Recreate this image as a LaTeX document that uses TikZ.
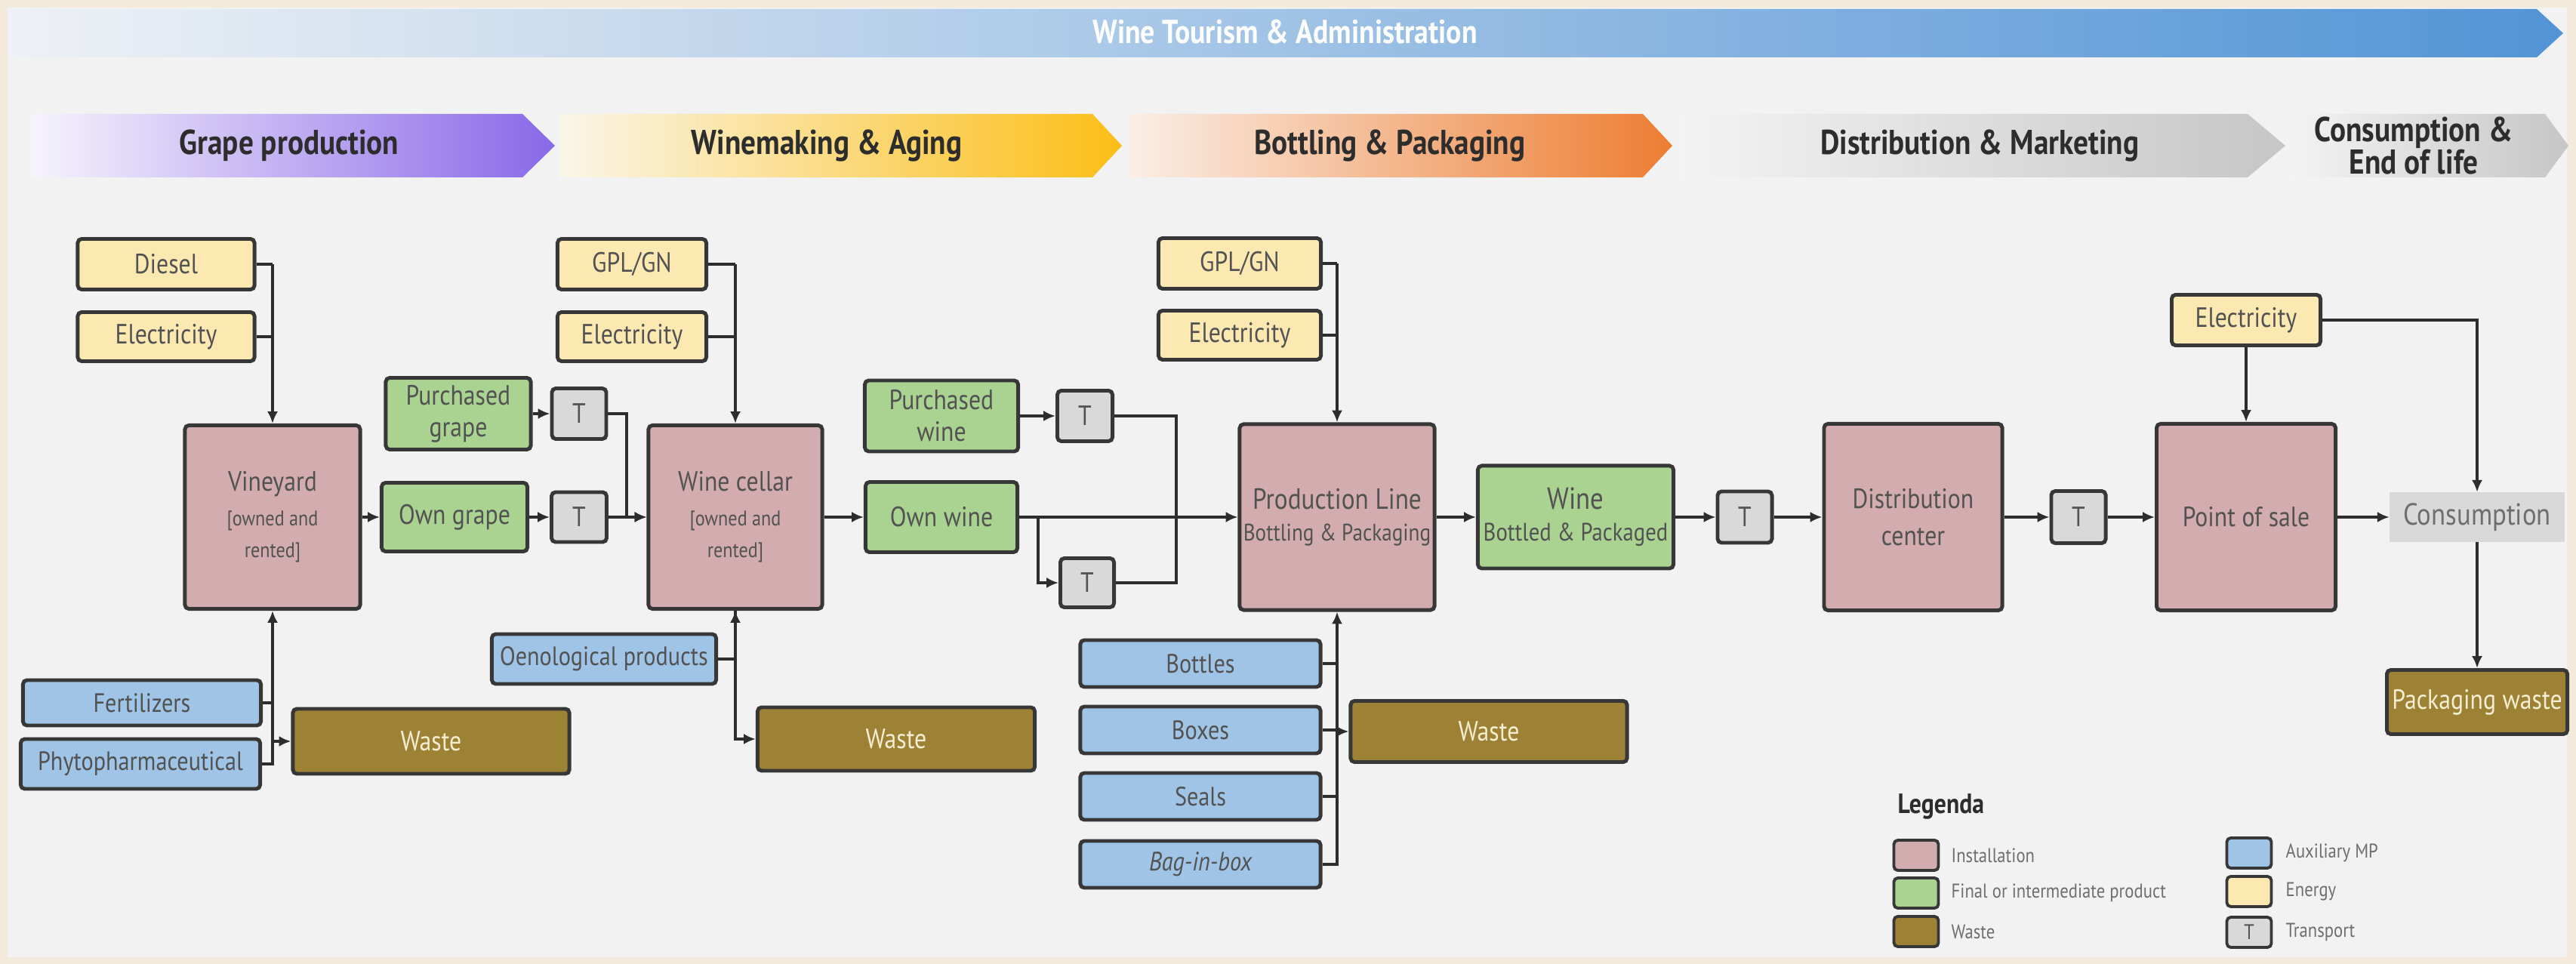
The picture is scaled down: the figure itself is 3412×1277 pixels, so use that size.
\documentclass[tikz,border=0pt]{standalone}
\usepackage{fontspec}
\setmainfont{PT Sans}[FakeStretch=0.86]
\usetikzlibrary{arrows.meta}
\newcommand\fsz[2]{\fontsize{#1}{#2}\selectfont}
\definecolor{cream}{RGB}{243,234,219}
\definecolor{panel}{RGB}{242,242,242}
\definecolor{instc}{RGB}{210,172,175}
\definecolor{prodc}{RGB}{170,210,145}
\definecolor{enerc}{RGB}{252,233,178}
\definecolor{auxc}{RGB}{160,196,230}
\definecolor{wastec}{RGB}{157,129,52}
\definecolor{trnc}{RGB}{217,217,217}
\definecolor{bordc}{RGB}{55,55,55}
\definecolor{linec}{RGB}{45,45,45}
\definecolor{txtc}{RGB}{82,82,82}
\definecolor{wtxt}{RGB}{245,238,210}
\definecolor{hdrc}{RGB}{45,45,45}
\definecolor{legc}{RGB}{110,110,110}
\definecolor{purl}{RGB}{246,244,252}
\definecolor{pur}{RGB}{138,104,232}
\definecolor{goll}{RGB}{250,246,232}
\definecolor{gol}{RGB}{252,190,22}
\definecolor{orl}{RGB}{250,238,230}
\definecolor{ora}{RGB}{237,125,49}
\definecolor{gryl}{RGB}{243,243,243}
\definecolor{gry}{RGB}{198,198,198}
\definecolor{blul}{RGB}{238,241,245}
\definecolor{blu}{RGB}{82,148,214}
\tikzset{
  box/.style={draw=bordc, line width=1.4pt, rounded corners=1.5pt, inner sep=0pt,
    align=center, font=\fsz{10.5}{12}, text=txtc},
  sz/.style n args={2}{minimum width=#1cm, minimum height=#2cm},
  inst/.style={box, fill=instc},
  prod/.style={box, fill=prodc},
  ener/.style={box, fill=enerc},
  aux/.style={box, fill=auxc, font=\fsz{10}{12}},
  wst/.style={box, fill=wastec, text=wtxt},
  trn/.style={box, fill=trnc, text=txtc},
  conn/.style={draw=linec, line width=1.1pt, -{Latex[length=4.5pt,width=4pt]}},
  ln/.style={draw=linec, line width=1.1pt},
  hdr/.style={font=\bfseries\fsz{13}{12}, text=hdrc, align=center},
  legsw/.style={draw=bordc, line width=1.1pt, rounded corners=1.5pt, inner sep=0pt,
    minimum width=0.59cm, minimum height=0.40cm, font=\fsz{8}{9}, text=txtc},
  legtx/.style={anchor=west, font=\fsz{7.5}{9}, text=legc, inner sep=0pt},
}
\begin{document}
\begin{tikzpicture}[x=0.01cm, y=-0.01cm]
\useasboundingbox (0,0) rectangle (3412,1277);
\fill[cream] (0,0) rectangle (3412,1277);
\fill[panel] (10,10) rectangle (3400,1268);

% top banner
\shade[left color=blul, right color=blu] (10,12) -- (3360,12) -- (3395,44) -- (3360,76) -- (10,76) -- cycle;
\node[font=\bfseries\fsz{12.5}{14}, text=white] (banner) at (1702,42) {Wine Tourism \& Administration};

% phase arrows
\shade[left color=purl, right color=pur] (40,151) -- (692,151) -- (735,193) -- (692,235) -- (40,235) -- cycle;
\node[hdr] (h1) at (383,193) {Grape production};
\shade[left color=goll, right color=gol] (740,151) -- (1447,151) -- (1486,193) -- (1447,235) -- (740,235) -- cycle;
\node[hdr] (h2) at (1095,193) {Winemaking \& Aging};
\shade[left color=orl, right color=ora] (1495,151) -- (2176,151) -- (2215,193) -- (2176,235) -- (1495,235) -- cycle;
\node[hdr] (h3) at (1841,193) {Bottling \& Packaging};
\shade[left color=gryl, right color=gry] (2225,151) -- (2977,151) -- (3027,193) -- (2977,235) -- (2225,235) -- cycle;
\node[hdr] (h4) at (2622,193) {Distribution \& Marketing};
\shade[left color=gryl, right color=gry] (3035,151) -- (3371,151) -- (3402,193) -- (3371,235) -- (3035,235) -- cycle;
\node[hdr] (h5) at (3197,193) {Consumption \&\\End of life};

% grape production
\node[ener, sz={2.34}{0.67}] (diesel) at (220,350) {Diesel};
\node[ener, sz={2.34}{0.65}] (elec1) at (220,446) {Electricity};
\node[inst, sz={2.32}{2.43}] (vine) at (361,685) {Vineyard\\[1pt]\fsz{8}{9.5}[owned and\\\fsz{8}{9.5}rented]};
\node[prod, sz={1.93}{0.91}] (owngrape) at (602,685) {Own grape};
\node[trn, sz={0.73}{0.66}] (tog) at (767,685) {T};
\node[prod, sz={1.92}{0.95}] (pgrape) at (607,548) {Purchased\\grape};
\node[trn, sz={0.72}{0.67}] (tpg) at (767,548) {T};
\node[aux, sz={3.15}{0.60}] (fert) at (188,931) {Fertilizers};
\node[aux, sz={3.17}{0.66}] (phyto) at (186,1012) {Phytopharmaceutical};
\node[wst, sz={3.66}{0.86}] (waste1) at (571,982) {Waste};

% winemaking
\node[ener, sz={1.97}{0.67}] (gpl1) at (837,350) {GPL/GN};
\node[ener, sz={1.97}{0.65}] (elec2) at (837,446) {Electricity};
\node[inst, sz={2.30}{2.43}] (cellar) at (974,685) {Wine cellar\\[1pt]\fsz{8}{9.5}[owned and\\\fsz{8}{9.5}rented]};
\node[aux, sz={2.97}{0.66}] (oeno) at (800,873) {Oenological products};
\node[wst, sz={3.67}{0.84}] (waste2) at (1187,979) {Waste};
\node[prod, sz={2.01}{0.93}] (ownwine) at (1247,685) {Own wine};
\node[prod, sz={2.03}{0.94}] (pwine) at (1247,551) {Purchased\\wine};
\node[trn, sz={0.73}{0.67}] (tpw) at (1437,551) {T};
\node[trn, sz={0.71}{0.65}] (tow) at (1440,772) {T};

% bottling
\node[ener, sz={2.15}{0.67}] (gpl2) at (1642,349) {GPL/GN};
\node[ener, sz={2.15}{0.65}] (elec3) at (1642,444) {Electricity};
\node[inst, sz={2.58}{2.46}] (prod) at (1771,685) {\fsz{11}{13}Production Line\\\fsz{9}{11}Bottling \& Packaging};
\node[prod, sz={2.59}{1.36}] (wine) at (2087,685) {\fsz{11.5}{13}Wine\\\fsz{9.5}{11}Bottled \& Packaged};
\node[aux, sz={3.18}{0.62}] (bottles) at (1590,879) {Bottles};
\node[aux, sz={3.18}{0.62}] (boxes) at (1590,967) {Boxes};
\node[aux, sz={3.18}{0.62}] (seals) at (1590,1055) {Seals};
\node[aux, sz={3.18}{0.62}] (bag) at (1590,1145) {\itshape Bag-in-box};
\node[wst, sz={3.66}{0.81}] (waste3) at (1972,969) {Waste};

% distribution
\node[trn, sz={0.72}{0.68}] (t4) at (2311,685) {T};
\node[inst, sz={2.36}{2.47}] (dist) at (2534,685) {Distribution\\[2pt]center};
\node[trn, sz={0.72}{0.69}] (t5) at (2753,685) {T};
\node[inst, sz={2.37}{2.47}] (pos) at (2975,685) {Point of sale};
\node[ener, sz={1.97}{0.67}] (elec4) at (2975,424) {Electricity};
\node[fill=trnc, inner sep=0pt, minimum width=2.31cm, minimum height=0.65cm, font=\fsz{11.5}{13}, text=legc] (cons) at (3281,685) {Consumption};
\node[wst, sz={2.39}{0.85}] (pwaste) at (3281,930) {Packaging waste};

% connectors grape
\draw[ln] (diesel.east) -- (diesel.east -| vine.north);
\draw[ln] (elec1.east) -- (elec1.east -| vine.north);
\draw[conn] (diesel.east -| vine.north) -- (vine.north);
\draw[conn] (vine.east) -- (owngrape.west);
\draw[conn] (owngrape.east) -- (tog.west);
\draw[conn] (pgrape.east) -- (tpg.west);
\coordinate (j1) at (830,685);
\draw[conn] (tpg.east) -| (j1) -- (cellar.west);
\draw[conn] (tog.east) -- (cellar.west);
\draw[ln] (fert.east) -- (fert.east -| vine.south);
\draw[conn] (phyto.east) -| (vine.south);
\draw[conn] (vine.south |- waste1.west) -- (waste1.west);

% connectors winemaking
\draw[ln] (gpl1.east) -- (gpl1.east -| cellar.north);
\draw[ln] (elec2.east) -- (elec2.east -| cellar.north);
\draw[conn] (gpl1.east -| cellar.north) -- (cellar.north);
\draw[conn] (oeno.east) -| (cellar.south);
\draw[conn] (cellar.south) |- (waste2.west);
\draw[conn] (cellar.east) -- (ownwine.west);

% connectors bottling
\coordinate (b1) at (1375,685);
\coordinate (j2) at (1558,685);
\draw[conn] (pwine.east) -- (tpw.west);
\draw[ln] (tpw.east) -| (j2);
\draw[conn] (ownwine.east) -- (prod.west);
\draw[conn] (b1) |- (tow.west);
\draw[ln] (tow.east) -| (j2);
\draw[ln] (gpl2.east) -- (gpl2.east -| prod.north);
\draw[ln] (elec3.east) -- (elec3.east -| prod.north);
\draw[conn] (gpl2.east -| prod.north) -- (prod.north);
\draw[ln] (bottles.east) -- (bottles.east -| prod.south);
\draw[ln] (boxes.east) -- (boxes.east -| prod.south);
\draw[ln] (seals.east) -- (seals.east -| prod.south);
\draw[conn] (bag.east) -| (prod.south);
\draw[conn] (prod.south |- waste3.west) -- (waste3.west);
\draw[conn] (prod.east) -- (wine.west);
\draw[conn] (wine.east) -- (t4.west);

% connectors distribution
\draw[conn] (t4.east) -- (dist.west);
\draw[conn] (dist.east) -- (t5.west);
\draw[conn] (t5.east) -- (pos.west);
\draw[conn] (pos.east) -- (cons.west);
\draw[conn] (elec4.south) -- (pos.north);
\draw[conn] (elec4.east) -| (cons.north);
\draw[conn] (cons.south) -- (pwaste.north);

% legend
\node[anchor=west, inner sep=0pt, font=\bfseries\fsz{10.5}{12}, text=hdrc] (leg) at (2513,1068) {Legenda};
\node[legsw, fill=instc] (lsw1) at (2538,1133) {};
\node[legtx] (ltx1) at (2584,1133) {Installation};
\node[legsw, fill=prodc] (lsw2) at (2538,1183) {};
\node[legtx] (ltx2) at (2584,1183) {Final or intermediate product};
\node[legsw, fill=wastec] (lsw3) at (2538,1234) {};
\node[legtx] (ltx3) at (2584,1234) {Waste};
\node[legsw, fill=auxc] (lsw4) at (2979,1130) {};
\node[legtx] (ltx4) at (3027,1130) {Auxiliary MP};
\node[legsw, fill=enerc] (lsw5) at (2979,1181) {};
\node[legtx] (ltx5) at (3027,1181) {Energy};
\node[legsw, fill=trnc] (lsw6) at (2979,1235) {T};
\node[legtx] (ltx6) at (3027,1235) {Transport};
\end{tikzpicture}
\end{document}
